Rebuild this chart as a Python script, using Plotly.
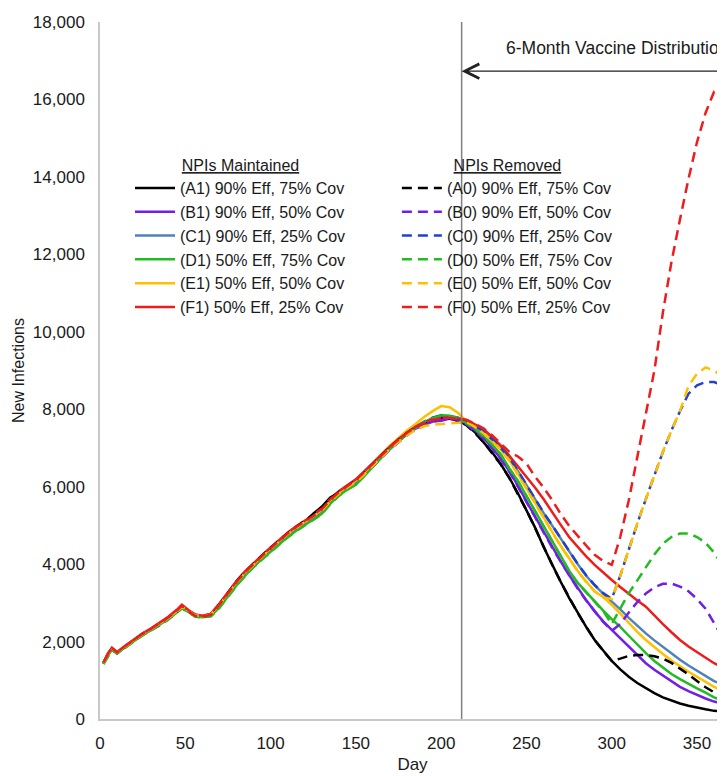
import plotly.graph_objects as go

# ---------------- data ----------------
DAYS = [2, 5, 7, 10, 15, 20, 25, 30, 35, 40, 45, 48, 52, 56, 60, 65, 70, 75, 80, 85,
        90, 95, 100, 105, 110, 115, 120, 125, 130, 135, 140, 145, 150, 155, 160, 165,
        170, 175, 180, 185, 190, 195, 200, 205, 210,
        215, 220, 225, 230, 235, 240, 245, 250, 255, 260, 265, 270, 275, 280, 285, 290,
        295, 300, 305, 310, 315, 320, 325, 330, 335, 340, 345, 350, 355, 360, 365, 370]

A1 = [1450, 1700, 1820, 1720, 1880, 2040, 2190, 2320, 2450, 2600, 2780, 2920, 2790, 2680, 2650, 2700, 2950, 3250, 3530, 3780,
      4000, 4200, 4400, 4600, 4780, 4940, 5090, 5300, 5480, 5720, 5840, 6000, 6150, 6350, 6580, 6800,
      7010, 7200, 7380, 7530, 7650, 7740, 7790, 7780, 7700,
      7600, 7400, 7150, 6880, 6580, 6230, 5830, 5400, 4950, 4450, 3990, 3550, 3130, 2740, 2380, 2040,
      1760, 1500, 1280, 1090, 930, 790, 670, 560, 470, 400, 340, 290, 250, 210, 190, 175]
B1 = [1430, 1680, 1800, 1700, 1870, 2030, 2180, 2300, 2440, 2590, 2760, 2880, 2780, 2670, 2640, 2690, 2930, 3230, 3500, 3760,
      3980, 4180, 4380, 4580, 4760, 4920, 5070, 5200, 5380, 5620, 5820, 5980, 6100, 6320, 6550, 6770,
      6980, 7170, 7350, 7500, 7600, 7680, 7700, 7760, 7740,
      7620, 7450, 7250, 7000, 6720, 6400, 6030, 5620, 5230, 4830, 4440, 4080, 3720, 3380, 3070, 2780,
      2520, 2300, 2080, 1860, 1640, 1440, 1270, 1120, 960, 830, 720, 620, 530, 450, 400, 360]
C1 = [1440, 1690, 1810, 1710, 1880, 2040, 2190, 2310, 2450, 2600, 2770, 2900, 2790, 2680, 2650, 2700, 2940, 3240, 3510, 3760,
      3970, 4170, 4350, 4570, 4760, 4920, 5070, 5210, 5390, 5630, 5830, 5990, 6140, 6340, 6570, 6790,
      7000, 7190, 7370, 7520, 7660, 7760, 7820, 7820, 7780,
      7680, 7560, 7400, 7210, 6990, 6730, 6400, 6030, 5680, 5320, 5000, 4660, 4330, 4000, 3700, 3450,
      3240, 3040, 2830, 2610, 2400, 2210, 2030, 1860, 1690, 1530, 1380, 1240, 1110, 980, 890, 830]
D1 = [1420, 1670, 1790, 1700, 1860, 2020, 2170, 2300, 2430, 2580, 2750, 2870, 2760, 2650, 2630, 2660, 2880, 3170, 3450, 3700,
      3930, 4130, 4320, 4520, 4700, 4860, 5000, 5150, 5300, 5560, 5770, 5930, 6050, 6280, 6520, 6750,
      6970, 7170, 7360, 7520, 7660, 7780, 7850, 7830, 7780,
      7640, 7500, 7300, 7080, 6830, 6470, 6150, 5760, 5370, 4990, 4600, 4210, 3830, 3520, 3280, 3020,
      2800, 2580, 2380, 2150, 1920, 1700, 1500, 1320, 1160, 1030, 900, 790, 680, 560, 480, 430]
E1 = [1460, 1710, 1830, 1730, 1890, 2050, 2200, 2330, 2460, 2610, 2790, 2900, 2800, 2690, 2660, 2710, 2960, 3260, 3540, 3790,
      4010, 4210, 4410, 4610, 4790, 4950, 5100, 5230, 5410, 5650, 5850, 6010, 6160, 6370, 6610, 6840,
      7060, 7260, 7450, 7620, 7800, 7950, 8080, 8050, 7900,
      7680, 7550, 7380, 7180, 6950, 6680, 6330, 5950, 5580, 5200, 4840, 4480, 4150, 3830, 3550, 3300,
      3150, 2950, 2720, 2480, 2250, 2040, 1850, 1680, 1510, 1360, 1220, 1090, 960, 830, 740, 680]
F1 = [1450, 1720, 1840, 1730, 1900, 2060, 2210, 2340, 2480, 2640, 2820, 2950, 2810, 2700, 2670, 2720, 2980, 3280, 3560, 3810,
      4030, 4230, 4430, 4630, 4810, 4980, 5130, 5260, 5440, 5680, 5880, 6040, 6190, 6400, 6620, 6840,
      7040, 7230, 7400, 7550, 7660, 7740, 7780, 7790, 7760,
      7720, 7600, 7480, 7280, 7060, 6800, 6530, 6250, 5980, 5680, 5340, 5020, 4700, 4450, 4200, 3980,
      3780, 3590, 3410, 3230, 3060, 2900, 2670, 2450, 2240, 2040, 1870, 1720, 1580, 1440, 1340, 1260]

A0 = [1440, 1690, 1810, 1710, 1870, 2040, 2200, 2330, 2460, 2600, 2770, 2890, 2780, 2670, 2640, 2700, 2960, 3270, 3550, 3800,
      4020, 4220, 4420, 4620, 4800, 4960, 5110, 5280, 5460, 5700, 5860, 6010, 6160, 6360, 6590, 6810,
      7020, 7210, 7390, 7540, 7650, 7730, 7760, 7760, 7700,
      7580, 7380, 7140, 6870, 6570, 6220, 5820, 5390, 4940, 4450, 3990, 3550, 3130, 2740, 2380, 2040,
      1760, 1500, 1560, 1630, 1650, 1650, 1620, 1560, 1450, 1310, 1150, 980, 820, 690, 600, 540]
B0 = [1430, 1670, 1790, 1690, 1860, 2020, 2170, 2290, 2420, 2570, 2740, 2860, 2760, 2650, 2620, 2680, 2920, 3220, 3490, 3740,
      3960, 4160, 4370, 4570, 4750, 4910, 5060, 5190, 5370, 5610, 5810, 5960, 6090, 6300, 6530, 6750,
      6960, 7150, 7330, 7480, 7590, 7680, 7720, 7750, 7730,
      7600, 7430, 7230, 6980, 6700, 6380, 6010, 5610, 5220, 4820, 4430, 4070, 3710, 3370, 3060, 2770,
      2510, 2280, 2450, 2750, 3020, 3240, 3400, 3490, 3500, 3420, 3300, 3100, 2850, 2480, 2100, 1800]
C0 = [1440, 1690, 1810, 1710, 1880, 2040, 2190, 2310, 2450, 2600, 2770, 2900, 2790, 2680, 2650, 2700, 2940, 3240, 3510, 3760,
      3970, 4170, 4360, 4580, 4770, 4930, 5080, 5220, 5400, 5640, 5840, 6000, 6150, 6350, 6580, 6800,
      7010, 7200, 7380, 7540, 7680, 7780, 7830, 7810, 7770,
      7690, 7570, 7410, 7220, 7000, 6740, 6410, 6040, 5690, 5330, 5010, 4670, 4340, 4010, 3710, 3460,
      3250, 3100, 3700, 4400, 5050, 5680, 6300, 6900, 7450, 7950, 8400, 8620, 8700, 8700, 8620, 8500]
D0 = [1420, 1660, 1780, 1690, 1850, 2010, 2160, 2290, 2420, 2570, 2740, 2860, 2750, 2640, 2620, 2650, 2870, 3160, 3440, 3690,
      3920, 4120, 4310, 4510, 4690, 4850, 4990, 5140, 5290, 5550, 5760, 5920, 6060, 6290, 6530, 6760,
      6980, 7180, 7370, 7530, 7670, 7770, 7830, 7820, 7770,
      7630, 7490, 7290, 7070, 6820, 6460, 6140, 5750, 5360, 4980, 4590, 4200, 3820, 3510, 3270, 3010,
      2790, 2450, 2850, 3250, 3580, 3900, 4250, 4530, 4700, 4790, 4790, 4700, 4550, 4300, 3950, 3700]
E0 = [1450, 1700, 1820, 1720, 1880, 2040, 2190, 2320, 2450, 2600, 2780, 2900, 2790, 2680, 2650, 2700, 2950, 3250, 3520, 3770,
      3990, 4190, 4390, 4590, 4770, 4930, 5080, 5210, 5380, 5620, 5820, 5980, 6120, 6320, 6550, 6770,
      6980, 7160, 7330, 7470, 7560, 7600, 7620, 7640, 7650,
      7670, 7540, 7370, 7170, 6940, 6670, 6320, 5940, 5570, 5190, 4830, 4470, 4140, 3820, 3540, 3290,
      3140, 3100, 3700, 4400, 5050, 5680, 6300, 6900, 7450, 7950, 8600, 8920, 9080, 9000, 8830, 8650]
F0 = [1460, 1710, 1830, 1720, 1890, 2050, 2200, 2330, 2470, 2620, 2800, 2920, 2780, 2660, 2640, 2690, 2950, 3250, 3540, 3790,
      4010, 4210, 4410, 4610, 4790, 4960, 5110, 5240, 5420, 5660, 5860, 6020, 6170, 6380, 6600, 6820,
      7020, 7210, 7390, 7540, 7650, 7730, 7770, 7780, 7750,
      7720, 7620, 7500, 7320, 7120, 6900, 6780, 6600, 6260, 5980, 5660, 5300, 4990, 4720, 4480, 4240,
      4080, 3980, 4700, 5650, 6800, 7880, 9000, 10500, 11800, 12900, 13950, 14900, 15650, 16200, 16280, 16200]

SERIES_MAINTAINED = [
    ("(A1) 90% Eff, 75% Cov", A1, "#000000"),
    ("(B1) 90% Eff, 50% Cov", B1, "#7020E6"),
    ("(C1) 90% Eff, 25% Cov", C1, "#4F81BD"),
    ("(D1) 50% Eff, 75% Cov", D1, "#22BB22"),
    ("(E1) 50% Eff, 50% Cov", E1, "#FFC000"),
    ("(F1) 50% Eff, 25% Cov", F1, "#EE1C1C"),
]
SERIES_REMOVED = [
    ("(A0) 90% Eff, 75% Cov", A0, "#000000"),
    ("(B0) 90% Eff, 50% Cov", B0, "#7020E6"),
    ("(C0) 90% Eff, 25% Cov", C0, "#2040D0"),
    ("(D0) 50% Eff, 75% Cov", D0, "#22BB22"),
    ("(E0) 50% Eff, 50% Cov", E0, "#FFC000"),
    ("(F0) 50% Eff, 25% Cov", F0, "#EE1C1C"),
]

DISTRIBUTION_START = 212      # day the vaccine distribution begins
DISTRIBUTION_END = 394        # six months later (beyond the visible range)
X_RANGE = [0, 366.4]
Y_RANGE = [0, 18000]
ARROW_Y = 16730
LABEL_Y = 17330

FONT = "Liberation Sans, Arial, sans-serif"
TEXT = "#1a1a1a"
AXIS = "#C8C8C8"

fig = go.Figure()
for name, vals, color in SERIES_MAINTAINED:
    fig.add_trace(go.Scatter(x=DAYS, y=vals, mode="lines", name=name,
                             line=dict(color=color, width=2.5), legend="legend"))
for name, vals, color in SERIES_REMOVED:
    fig.add_trace(go.Scatter(x=DAYS, y=vals, mode="lines", name=name,
                             line=dict(color=color, width=2.5, dash="10px,6px"), legend="legend2"))

fig.add_shape(type="line", x0=DISTRIBUTION_START, x1=DISTRIBUTION_START, xref="x",
              y0=0, y1=1, yref="y domain", line=dict(color="#7F7F7F", width=1.5))

fig.add_annotation(x=DISTRIBUTION_START, y=ARROW_Y, ax=DISTRIBUTION_END, ay=ARROW_Y,
                   xref="x", yref="y", axref="x", ayref="y", text="", showarrow=True,
                   arrowhead=5, arrowsize=2.2, arrowwidth=1.3, arrowcolor="#222")
fig.add_annotation(x=(DISTRIBUTION_START + DISTRIBUTION_END) / 2, y=LABEL_Y, xref="x", yref="y",
                   text="6-Month Vaccine Distribution", showarrow=False,
                   font=dict(family=FONT, size=17.5, color=TEXT))

legend_common = dict(xanchor="left", yanchor="top", bgcolor="rgba(0,0,0,0)",
                     font=dict(family=FONT, size=16, color=TEXT), itemwidth=40,
                     tracegroupgap=0, itemclick=False)
fig.update_layout(
    width=717, height=768,
    margin=dict(l=92, r=0, t=14, b=57),
    paper_bgcolor="white", plot_bgcolor="white",
    font=dict(family=FONT, size=17, color=TEXT),
    showlegend=True,
    legend=dict(x=0.048, y=0.816,
                title=dict(text="<u>NPIs Maintained</u>", side="top center",
                           font=dict(family=FONT, size=16, color=TEXT)),
                **legend_common),
    legend2=dict(x=0.475, y=0.816,
                 title=dict(text="<u>NPIs Removed</u>", side="top center",
                            font=dict(family=FONT, size=16, color=TEXT)),
                 **legend_common),
    xaxis=dict(range=X_RANGE, tick0=0, dtick=50, showgrid=False, zeroline=False,
               showline=True, linecolor=AXIS, linewidth=1.5, ticks="",
               tickfont=dict(family=FONT, size=17, color=TEXT), ticklabelstandoff=8,
               title=dict(text="Day", standoff=6, font=dict(family=FONT, size=17, color=TEXT))),
    yaxis=dict(range=Y_RANGE, tick0=0, dtick=2000, tickformat=",d", showgrid=False,
               zeroline=False, showline=True, linecolor=AXIS, linewidth=1.5, ticks="",
               tickfont=dict(family=FONT, size=17, color=TEXT), ticklabelstandoff=10,
               title=dict(text="New Infections", standoff=4,
                          font=dict(family=FONT, size=16, color=TEXT))),
)

fig.write_html("out.html")
